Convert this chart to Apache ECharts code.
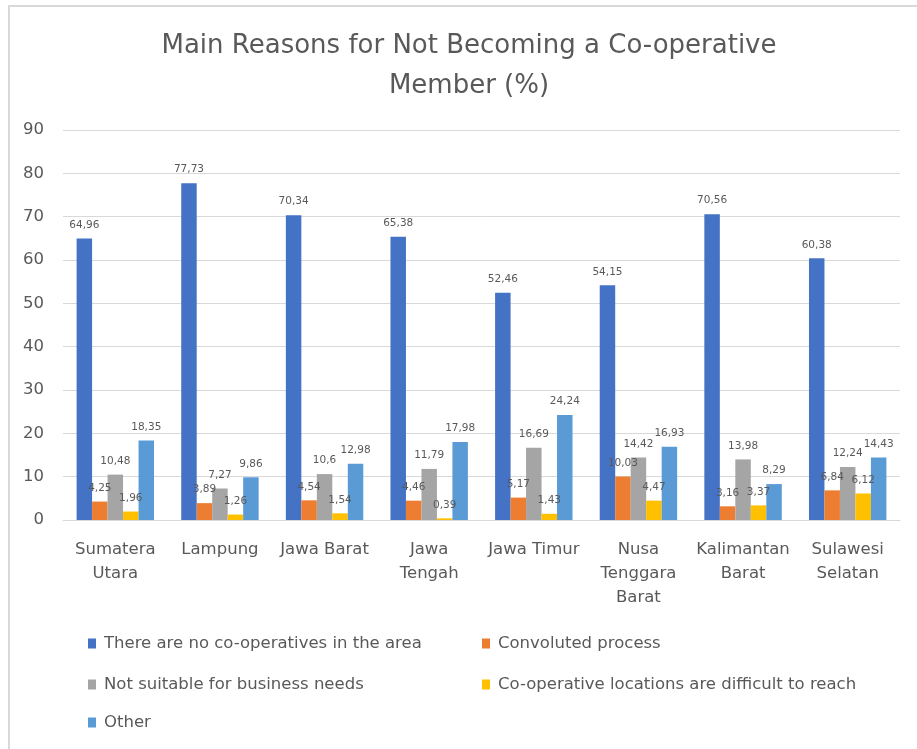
<!DOCTYPE html>
<html>
<head>
<meta charset="utf-8">
<script src="https://cdn.jsdelivr.net/npm/echarts@6/dist/echarts.min.js"></script>
<style>html,body{margin:0;padding:0;background:#fff;}#c{width:917px;height:749px;}</style>
</head>
<body>
<div id="c"></div>
<script>
var categories = ["Sumatera\nUtara", "Lampung", "Jawa Barat", "Jawa\nTengah", "Jawa Timur", "Nusa\nTenggara\nBarat", "Kalimantan\nBarat", "Sulawesi\nSelatan"];
var seriesNames = ["There are no co-operatives in the area", "Convoluted process", "Not suitable for business needs", "Co-operative locations are difficult to reach", "Other"];
var noCoops = [64.96, 77.73, 70.34, 65.38, 52.46, 54.15, 70.56, 60.38];
var convoluted = [4.25, 3.89, 4.54, 4.46, 5.17, 10.03, 3.16, 6.84];
var notSuitable = [10.48, 7.27, 10.6, 11.79, 16.69, 14.42, 13.98, 12.24];
var difficult = [1.96, 1.26, 1.54, 0.39, 1.43, 4.47, 3.37, 6.12];
var other = [18.35, 9.86, 12.98, 17.98, 24.24, 16.93, 8.29, 14.43];
var yTicks = [0, 10, 20, 30, 40, 50, 60, 70, 80, 90];
var titleLines = ["Main Reasons for Not Becoming a Co-operative", "Member (%)"];

var colors = ["#4472C4", "#ED7D31", "#A5A5A5", "#FFC000", "#5B9BD5"];
var dataSets = [noCoops, convoluted, notSuitable, difficult, other];
var FONT = "DejaVu Sans";
var TXT = "#595959";

var chart = echarts.init(document.getElementById('c'));
var series = dataSets.map(function (d, i) {
  return {
    name: seriesNames[i],
    type: 'bar',
    data: d,
    barGap: '0%',
    barCategoryGap: '26%',
    itemStyle: { color: colors[i] },
    label: {
      show: true,
      position: 'top',
      distance: 8,
      color: TXT,
      fontFamily: FONT,
      fontSize: 10.5,
      formatter: function (p) { return String(p.value).replace('.', ','); }
    }
  };
});

var legendPos = [[88, 635], [482, 635], [88, 676], [482, 676], [88, 714]];
var legends = seriesNames.map(function (n, i) {
  return {
    data: [n],
    left: legendPos[i][0],
    top: legendPos[i][1],
    icon: 'rect',
    itemWidth: 8,
    itemHeight: 10,
    itemGap: 4,
    padding: 0,
    textStyle: { color: TXT, fontFamily: FONT, fontSize: 16.5, padding: [0, 0, 0, 3] },
    selectedMode: false
  };
});

var titleGraphics = titleLines.map(function (t, i) {
  return {
    type: 'text',
    x: 469,
    y: 46 + i * 40,
    silent: true,
    style: {
      text: t,
      fill: TXT,
      font: 'normal 26px "DejaVu Sans"',
      textAlign: 'center',
      textVerticalAlign: 'middle'
    }
  };
});

chart.setOption({
  animation: false,
  color: colors,
  graphic: [{
    type: 'rect',
    shape: { x: 9, y: 6, width: 1000, height: 1000 },
    style: { fill: 'none', stroke: '#D9D9D9', lineWidth: 2 },
    silent: true
  }].concat(titleGraphics),
  legend: legends,
  grid: { left: 63, right: 17, top: 130, bottom: 229, containLabel: false },
  xAxis: {
    type: 'category',
    data: categories,
    axisLine: { lineStyle: { color: '#D9D9D9', width: 1 } },
    axisTick: { show: false },
    axisLabel: { color: TXT, fontFamily: FONT, fontSize: 16.5, lineHeight: 24, margin: 18, interval: 0 }
  },
  yAxis: {
    type: 'value',
    min: yTicks[0],
    max: yTicks[yTicks.length - 1],
    interval: 10,
    axisLine: { show: false },
    axisTick: { show: false },
    splitLine: { lineStyle: { color: '#D9D9D9', width: 1 } },
    axisLabel: { color: TXT, fontFamily: FONT, fontSize: 16.5, margin: 19 }
  },
  series: series
});
</script>
</body>
</html>
